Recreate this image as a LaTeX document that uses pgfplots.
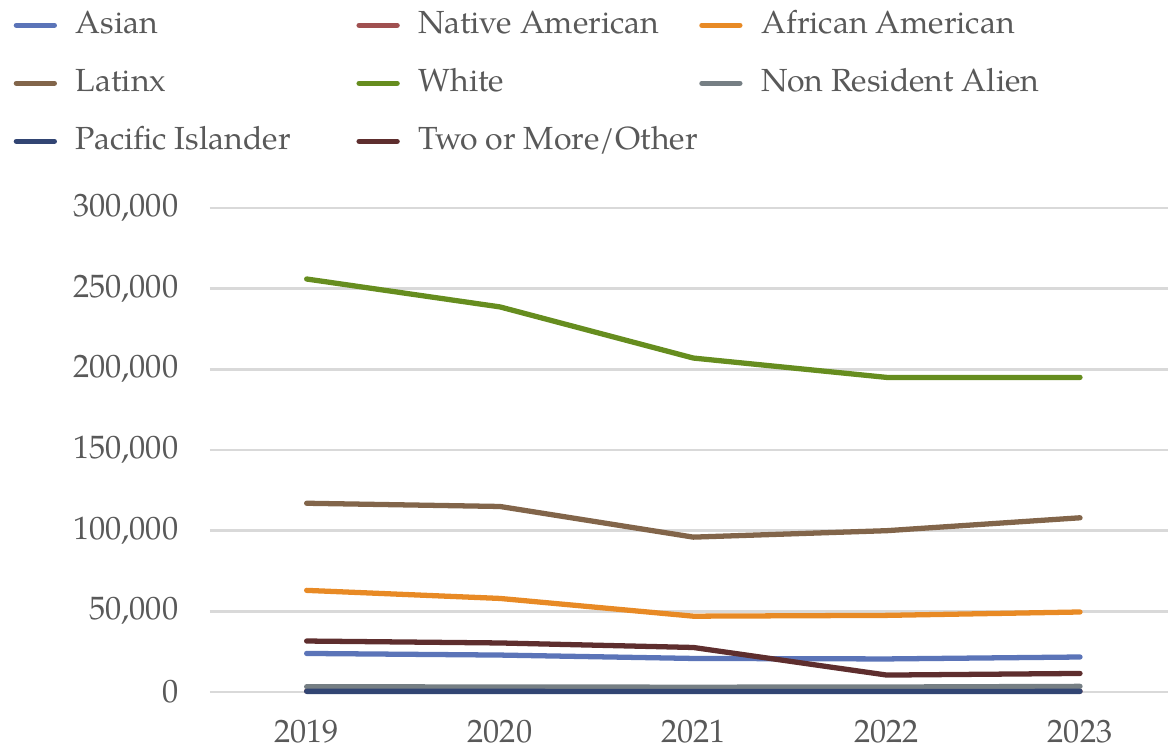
\documentclass[border=0pt]{standalone}
\usepackage{pgfplots}
\pgfplotsset{compat=1.18}
\usepackage{fontspec}
\setmainfont{TeX Gyre Pagella}
\definecolor{cAsian}{HTML}{5B74B8}
\definecolor{cNative}{HTML}{A05050}
\definecolor{cAfr}{HTML}{E88A25}
\definecolor{cLat}{HTML}{82654A}
\definecolor{cWhite}{HTML}{668D1F}
\definecolor{cNRA}{HTML}{767F84}
\definecolor{cPI}{HTML}{324573}
\definecolor{cTwo}{HTML}{5E2E2E}
\definecolor{txt}{HTML}{595959}
\definecolor{grd}{HTML}{D9D9D9}
\newcommand{\legbox}[1]{\makebox[2.745cm][l]{#1}}
\begin{document}
\begin{tikzpicture}
\begin{axis}[
  scale only axis,
  width=9.58cm, height=4.84cm,
  xmin=2018.5, xmax=2023.455,
  ymin=0, ymax=300000,
  xtick={2019,2020,2021,2022,2023},
  xticklabels={2019,2020,2021,2022,2023},
  ytick={0,50000,100000,150000,200000,250000,300000},
  scaled y ticks=false,
  yticklabel style={/pgf/number format/fixed, /pgf/number format/1000 sep={,}, /pgf/number format/assume math mode=true, xshift=-5.5pt},
  axis line style={draw=none},
  tick style={draw=none},
  ymajorgrids,
  grid style={color=grd, line width=0.7pt},
  font=\fontsize{9.2}{11}\selectfont,
  tick label style={color=txt},
  xticklabel style={yshift=-4.5pt},
  clip=false,
  legend columns=3,
  legend cell align=left,
  legend style={draw=none, fill=none, at={(rel axis cs:-0.2056,1.4132)}, anchor=north west,
    font=\fontsize{9.1}{11}\selectfont, text=txt, inner sep=0pt,
    row sep=0.25cm,
    nodes={inner sep=0pt, inner xsep=0.06cm, text height=0.25cm, text depth=0.08cm},
    /tikz/every odd column/.append style={column sep=0cm}},
  legend image code/.code={\draw[#1, line width=1.5pt, line cap=round] (0cm,0cm) -- (0.38cm,0cm); \path (0.51cm,0cm);},
  every axis plot/.append style={line width=1.5pt, line cap=round, line join=round},
]
\addplot[cAsian] coordinates {(2019,23900) (2020,22900) (2021,20800) (2022,20500) (2023,21700)};
\addlegendentry{\legbox{Asian}}
\addplot[cNative] coordinates {(2019,600) (2020,550) (2021,500) (2022,500) (2023,500)};
\addlegendentry{\legbox{Native American}}
\addplot[cAfr] coordinates {(2019,63000) (2020,58000) (2021,47000) (2022,47500) (2023,49600)};
\addlegendentry{\legbox{African American}}
\addplot[cLat] coordinates {(2019,117000) (2020,115000) (2021,96000) (2022,100000) (2023,108000)};
\addlegendentry{\legbox{Latinx}}
\addplot[cWhite] coordinates {(2019,256000) (2020,238700) (2021,207000) (2022,195000) (2023,195000)};
\addlegendentry{\legbox{White}}
\addplot[cNRA] coordinates {(2019,3300) (2020,3100) (2021,3000) (2022,3100) (2023,3500)};
\addlegendentry{\legbox{Non Resident Alien}}
\addplot[cPI] coordinates {(2019,400) (2020,400) (2021,350) (2022,350) (2023,400)};
\addlegendentry{\legbox{Pacific Islander}}
\addplot[cTwo] coordinates {(2019,31600) (2020,30400) (2021,27600) (2022,10500) (2023,11500)};
\addlegendentry{\legbox{Two or More/Other}}
\coordinate (bbsw) at (rel axis cs:-0.2192,-0.126);
\coordinate (bbne) at (rel axis cs:1,1.4298);
\end{axis}
\pgfresetboundingbox
\path (bbsw) rectangle (bbne);
\end{tikzpicture}
\end{document}
